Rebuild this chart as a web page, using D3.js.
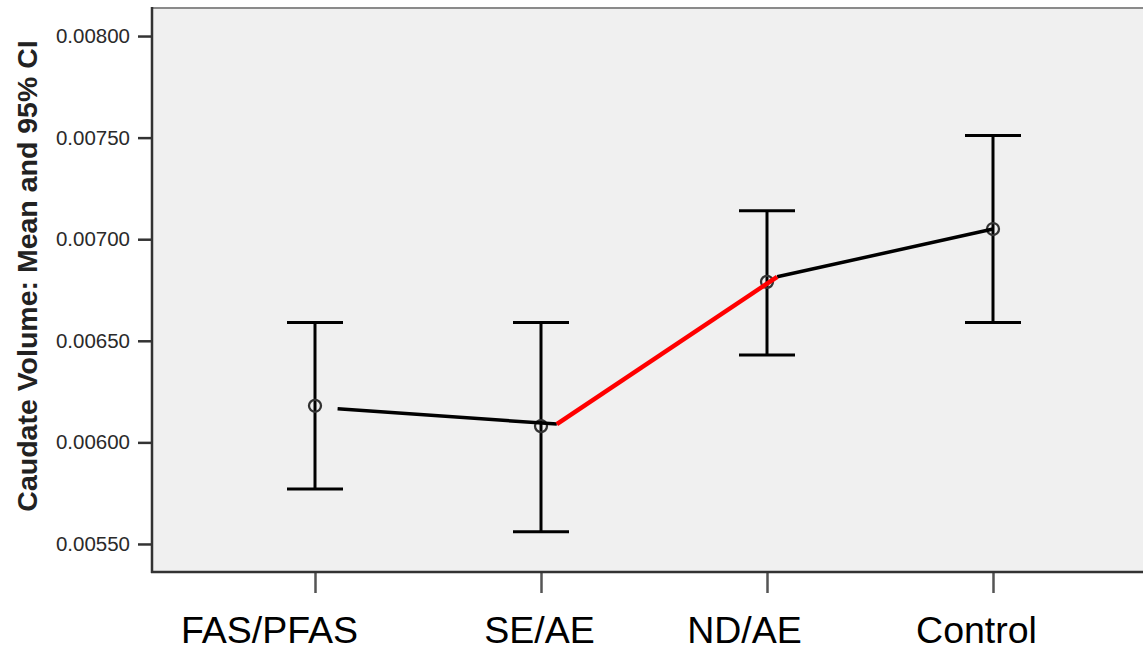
<!DOCTYPE html>
<html>
<head>
<meta charset="utf-8">
<script src="https://cdn.jsdelivr.net/npm/d3@7"></script>
<style>
  body { margin: 0; background: #fff; }
  svg { display: block; font-family: Arial, "Liberation Sans", sans-serif; }
</style>
</head>
<body>
<svg id="svg" width="1143" height="647"></svg>
<script>
// groups along the x axis
var groups = ["FAS/PFAS", "SE/AE", "ND/AE", "Control"];
// mean and 95% CI per group
var means = [0.00618, 0.00608, 0.00679, 0.00705];
var lower = [0.00577, 0.00556, 0.00643, 0.00659];
var upper = [0.00659, 0.00659, 0.00714, 0.00751];
var yTicks = [0.0055, 0.006, 0.0065, 0.007, 0.0075, 0.008];

// connecting lines drawn over the chart (group index position, value)
var lineBlack1 = [[0.1, 0.006165], [1.07, 0.00609]];
var lineRed = [[1.07, 0.00609], [2.045, 0.006815]];
var lineBlack2 = [[2.045, 0.006815], [3, 0.00705]];

var svg = d3.select("#svg");
var pLeft = 152, pRight = 1143, pTop = 8, pBottom = 572;
// category labels sit a bit left of their ticks in the original
var labelShift = [-46, -2, -23, -17];

var x = d3.scalePoint().domain(groups).range([315, 993]);
var xi = d3.scaleLinear().domain([0, 3]).range([315, 993]);
var y = d3.scaleLinear().domain([0.005362, 0.008138]).range([pBottom, pTop]);

// plot background
svg.append("rect")
  .attr("x", pLeft).attr("y", pTop)
  .attr("width", pRight - pLeft).attr("height", pBottom - pTop)
  .attr("fill", "#f0f0f0");
svg.append("line")
  .attr("x1", pLeft).attr("x2", pRight)
  .attr("y1", pTop).attr("y2", pTop)
  .attr("stroke", "#8a8a8a").attr("stroke-width", 2);

// y axis
var yAxis = svg.append("g")
  .attr("transform", "translate(" + pLeft + ",0)")
  .call(d3.axisLeft(y).tickValues(yTicks).tickFormat(d3.format(".5f")).tickSize(14).tickPadding(8));
yAxis.select(".domain").remove();
yAxis.selectAll(".tick line").attr("stroke", "#333").attr("stroke-width", 2.5);
yAxis.selectAll("text").attr("font-size", 20.5).attr("fill", "#2a2a2a");
svg.append("line")
  .attr("x1", pLeft).attr("x2", pLeft).attr("y1", pTop - 1).attr("y2", pBottom + 1)
  .attr("stroke", "#333").attr("stroke-width", 2.5);

// x axis
var xAxis = svg.append("g")
  .attr("transform", "translate(0," + pBottom + ")")
  .call(d3.axisBottom(x).tickSize(21).tickPadding(23));
xAxis.select(".domain").remove();
xAxis.selectAll(".tick line").attr("stroke", "#555").attr("stroke-width", 2.5);
xAxis.selectAll("text")
  .attr("font-size", 37.5).attr("fill", "#000")
  .attr("dx", function(d, i) { return labelShift[i]; });
svg.append("line")
  .attr("x1", pLeft - 1).attr("x2", pRight).attr("y1", pBottom).attr("y2", pBottom)
  .attr("stroke", "#333").attr("stroke-width", 2.5);

// axis title
svg.append("text")
  .attr("transform", "translate(37,276) rotate(-90)")
  .attr("text-anchor", "middle")
  .attr("font-size", 28.5).attr("font-weight", "bold").attr("fill", "#222")
  .text("Caudate Volume: Mean and 95% CI");

// error bars
var bars = svg.append("g").selectAll("g").data(groups).enter().append("g");
bars.append("line")
  .attr("x1", function(d) { return x(d); }).attr("x2", function(d) { return x(d); })
  .attr("y1", function(d, i) { return y(lower[i]); })
  .attr("y2", function(d, i) { return y(upper[i]); })
  .attr("stroke", "#000").attr("stroke-width", 3);
bars.append("line")
  .attr("x1", function(d) { return x(d) - 28; }).attr("x2", function(d) { return x(d) + 28; })
  .attr("y1", function(d, i) { return y(upper[i]); })
  .attr("y2", function(d, i) { return y(upper[i]); })
  .attr("stroke", "#000").attr("stroke-width", 3);
bars.append("line")
  .attr("x1", function(d) { return x(d) - 28; }).attr("x2", function(d) { return x(d) + 28; })
  .attr("y1", function(d, i) { return y(lower[i]); })
  .attr("y2", function(d, i) { return y(lower[i]); })
  .attr("stroke", "#000").attr("stroke-width", 3);

// connecting lines
var line = d3.line()
  .x(function(d) { return xi(d[0]); })
  .y(function(d) { return y(d[1]); });
svg.append("path").attr("d", line(lineBlack1)).attr("fill", "none")
  .attr("stroke", "#000").attr("stroke-width", 3.5);
svg.append("path").attr("d", line(lineBlack2)).attr("fill", "none")
  .attr("stroke", "#000").attr("stroke-width", 3.5);

// mean markers
bars.append("circle")
  .attr("cx", function(d) { return x(d); })
  .attr("cy", function(d, i) { return y(means[i]); })
  .attr("r", 6)
  .attr("fill", "none").attr("stroke", "#333").attr("stroke-width", 2.3);

svg.append("path").attr("d", line(lineRed)).attr("fill", "none")
  .attr("stroke", "#ff0000").attr("stroke-width", 4.5);
</script>
</body>
</html>
